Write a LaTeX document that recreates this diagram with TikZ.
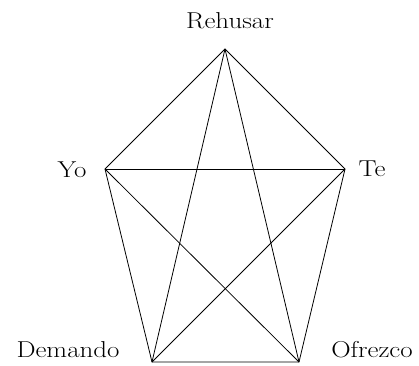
\documentclass[tikz,border=0pt]{standalone}
\begin{document}
\begin{tikzpicture}[x=1pt,y=-1pt,
  edge/.style={draw=black,line width=0.8pt},
  lbl/.style={anchor=base,inner sep=0pt,font=\fontsize{23}{28}\selectfont}]
\useasboundingbox (0,0) rectangle (419,365);
\coordinate (R) at (225,49);
\coordinate (Y) at (105,169);
\coordinate (T) at (345,169);
\coordinate (D) at (152,362);
\coordinate (O) at (299,362);
\node[lbl] (lr) at (230,28) {\scalebox{1.17}[1]{Rehusar}};
\node[lbl] (ly) at (72,177) {\scalebox{1.17}[1]{Yo}};
\node[lbl] (lt) at (372,176) {\scalebox{1.17}[1]{Te}};
\node[lbl] (ld) at (68,357) {\scalebox{1.17}[1]{Demando}};
\node[lbl] (lo) at (372,357) {\scalebox{1.17}[1]{Ofrezco}};
\draw[edge] (R) -- (Y) -- (D) -- (O) -- (T) -- cycle;
\draw[edge] (R) -- (D);
\draw[edge] (R) -- (O);
\draw[edge] (Y) -- (T);
\draw[edge] (Y) -- (O);
\draw[edge] (T) -- (D);
\end{tikzpicture}
\end{document}
